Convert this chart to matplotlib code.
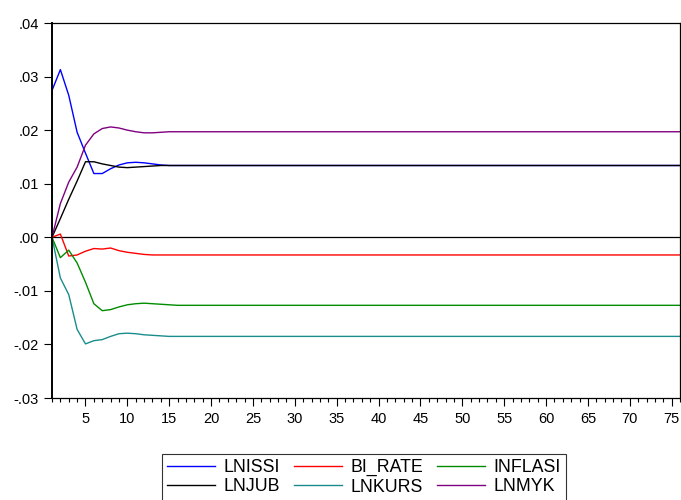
import numpy as np
import matplotlib.pyplot as plt
from matplotlib.ticker import MultipleLocator, FuncFormatter

plt.rcParams['font.family'] = ['Liberation Sans', 'DejaVu Sans']

N_PERIODS = 76

# impulse responses, periods 1..20; flat after that
LNISSI = [0.0274, 0.0313, 0.0265, 0.0196, 0.0157, 0.0119, 0.0119, 0.0128, 0.0135, 0.0139,
          0.0140, 0.0139, 0.0137, 0.0135, 0.0134, 0.0134, 0.0134, 0.0134, 0.0134, 0.0134]
BI_RATE = [0.0, 0.0006, -0.0035, -0.0033, -0.0026, -0.0021, -0.0022, -0.0020, -0.0025, -0.0028,
           -0.0030, -0.0032, -0.0033, -0.0033, -0.0033, -0.0033, -0.0033, -0.0033, -0.0033, -0.0033]
INFLASI = [0.0, -0.0038, -0.0024, -0.0048, -0.0084, -0.0124, -0.0137, -0.0135, -0.0130, -0.0126,
           -0.0124, -0.0123, -0.0124, -0.0125, -0.0126, -0.0127, -0.0127, -0.0127, -0.0127, -0.0127]
LNJUB = [0.0, 0.0035, 0.0071, 0.0105, 0.0141, 0.0141, 0.0137, 0.0134, 0.0131, 0.0130,
         0.0131, 0.0132, 0.0133, 0.0134, 0.0134, 0.0134, 0.0134, 0.0134, 0.0134, 0.0134]
LNKURS = [0.0, -0.0076, -0.0107, -0.0172, -0.0199, -0.0193, -0.0191, -0.0185, -0.0180, -0.0179,
          -0.0180, -0.0182, -0.0183, -0.0184, -0.0185, -0.0185, -0.0185, -0.0185, -0.0185, -0.0185]
LNMYK = [0.0, 0.0063, 0.0103, 0.0131, 0.0172, 0.0193, 0.0203, 0.0206, 0.0204, 0.0200,
         0.0197, 0.0195, 0.0195, 0.0196, 0.0197, 0.0197, 0.0197, 0.0197, 0.0197, 0.0197]

# legend is filled column by column, so this order gives the EViews row layout
SERIES = [
    ("LNISSI", LNISSI, "#0000ff"),
    ("LNJUB", LNJUB, "#000000"),
    ("BI_RATE", BI_RATE, "#ff0000"),
    ("LNKURS", LNKURS, "#1a8c8c"),
    ("INFLASI", INFLASI, "#008c00"),
    ("LNMYK", LNMYK, "#800080"),
]


def extend(vals, n):
    # responses have settled by period 20, hold the last value
    return np.array(vals + [vals[-1]] * (n - len(vals)))


def fmt_tick(v, pos):
    s = f"{v:.2f}"
    return s.replace("0.", ".", 1)


def main():
    fig = plt.figure(figsize=(6.81, 5.0), dpi=100)
    ax = fig.add_axes([52 / 681, 102 / 500, 628 / 681, 375 / 500])

    periods = np.arange(1, N_PERIODS + 1)
    for name, vals, color in SERIES:
        ax.plot(periods, extend(vals, N_PERIODS), color=color, linewidth=1.0, label=name)

    ax.axhline(0, color="black", linewidth=0.9, zorder=1)

    ax.set_xlim(1, N_PERIODS)
    ax.set_ylim(-0.03, 0.04)
    ax.yaxis.set_major_locator(MultipleLocator(0.01))
    ax.yaxis.set_major_formatter(FuncFormatter(fmt_tick))
    ax.xaxis.set_major_locator(MultipleLocator(5))
    ax.xaxis.set_minor_locator(MultipleLocator(1))
    ax.tick_params(axis="both", which="major", direction="out", length=6, width=0.8,
                   labelsize=10.5, colors="black")
    ax.tick_params(axis="x", which="major", pad=4)
    ax.tick_params(axis="x", which="minor", direction="out", length=3, width=0.8)
    for sp in ax.spines.values():
        sp.set_linewidth(0.9)
    ax.spines["left"].set_linewidth(1.4)

    leg = ax.legend(loc="upper left", bbox_to_anchor=((161.7 - 52) / 628, -0.149), ncol=3,
                    fontsize=12.8, frameon=True, fancybox=False, edgecolor="black",
                    handlelength=2.7, handletextpad=0.5, columnspacing=0.75,
                    labelspacing=0.12, borderpad=0.3, borderaxespad=0)
    leg.get_frame().set_linewidth(0.8)

    fig.savefig("out.png", dpi=100)


if __name__ == "__main__":
    main()
